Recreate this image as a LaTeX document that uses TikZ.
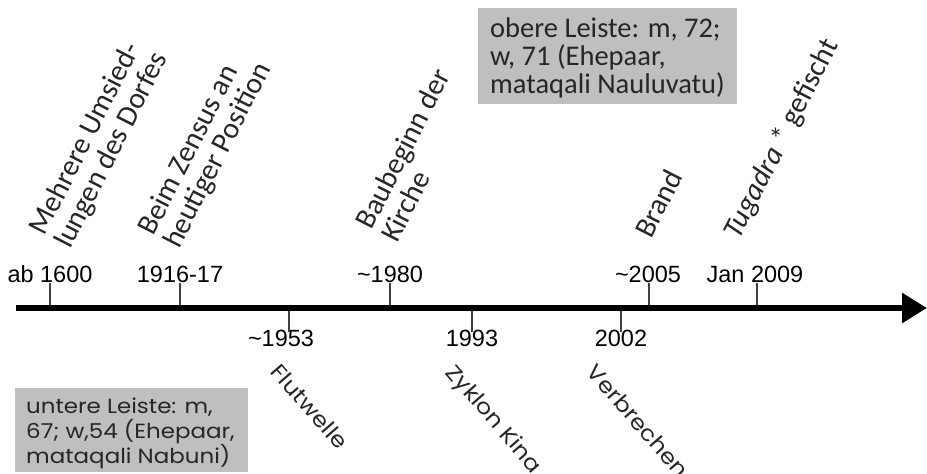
\documentclass[tikz,border=0pt]{standalone}
\usepackage{fontspec}
\setmainfont{Liberation Sans}
\newfontfamily\calib{Carlito}
\newfontfamily\gothic{Poppins}[FakeStretch=1.12]
\usetikzlibrary{arrows.meta}
\definecolor{boxgray}{HTML}{BFBFBF}
\definecolor{inkgray}{HTML}{262626}
\tikzset{
  datelbl/.style={font=\fontsize{23.5}{28}\selectfont, inner sep=0pt, text=black},
  tickline/.style={line width=1.2pt, draw=black!75},
  upevent/.style={font=\calib\fontsize{29.5}{26}\selectfont, inner sep=0pt, rotate=63, anchor=base west, text=inkgray},
  downevent/.style={font=\gothic\fontsize{21.5}{24}\selectfont, inner sep=0pt, rotate=-49, anchor=north west, text=inkgray},
  infobox/.style={fill=boxgray, inner sep=0pt, anchor=north west},
  infotext/.style={inner sep=0pt, anchor=base west, text=inkgray},
  axisline/.style={line width=6pt, -{Triangle[length=25pt,width=29pt]}}
}
\begin{document}
\begin{tikzpicture}[x=1pt,y=-1pt]
\useasboundingbox (0,0) rectangle (927,474);

% info boxes
\node[infobox, minimum width=259pt, minimum height=96pt] (obere) at (478,8) {};
\node[infotext, font=\calib\fontsize{28.5}{25.5}\selectfont] (oberetext) at (490,37)
  {\begin{tabular}[t]{@{}l@{}}obere Leiste: m, 72;\\w, 71 (Ehepaar,\\mataqali Nauluvatu)\end{tabular}};
\node[infobox, minimum width=233pt, minimum height=84pt] (untere) at (15,388) {};
\node[infotext, font=\gothic\fontsize{20.5}{20.5}\selectfont] (unteretext) at (26,413)
  {\begin{tabular}[t]{@{}l@{}}untere Leiste: m,\\67; w,54 (Ehepaar,\\mataqali Nabuni)\end{tabular}};

% axis coordinates
\coordinate (axL) at (16,308);
\coordinate (axR) at (927,308);
\coordinate (a1600) at (50,308);
\coordinate (a1916) at (180,308);
\coordinate (a1953) at (289,308);
\coordinate (a1980) at (390,308);
\coordinate (a1993) at (472,308);
\coordinate (a2002) at (621,308);
\coordinate (a2005) at (649,308);
\coordinate (a2009) at (757,308);

% date labels above
\node[datelbl, anchor=base] (l1600) at (50,282) {ab 1600};
\node[datelbl, anchor=base] (l1916) at (180,282) {1916-17};
\node[datelbl, anchor=base] (l1980) at (390,282) {\char`\~1980};
\node[datelbl, anchor=base] (l2005) at (648,282) {\char`\~2005};
\node[datelbl, anchor=base] (l2009) at (755,282) {Jan 2009};
% date labels below
\node[datelbl, anchor=north] (l1953) at (281,330) {\char`\~1953};
\node[datelbl, anchor=north] (l1993) at (472,330) {1993};
\node[datelbl, anchor=north] (l2002) at (621,330) {2002};

% ticks
\foreach \a/\l in {a1600/l1600, a1916/l1916, a1980/l1980, a2005/l2005, a2009/l2009}
  \draw[tickline] (\a) -- ([yshift=-1pt]\a |- \l.south);
\foreach \a/\l in {a1953/l1953, a1993/l1993, a2002/l2002}
  \draw[tickline] (\a) -- ([yshift=-2pt]\a |- \l.north);

% axis
\draw[axisline] (axL) -- (axR);

% events above
\node[upevent] (e1600) at (70,250) {\begin{tabular}[b]{@{}l@{}}Mehrere Umsied-\\lungen des Dorfes\end{tabular}};
\node[upevent] (e1916) at (179,250) {\begin{tabular}[b]{@{}l@{}}Beim Zensus an\\heutiger Position\end{tabular}};
\node[upevent] (e1980) at (397,244) {\begin{tabular}[b]{@{}l@{}}Baubeginn der\\Kirche\end{tabular}};
\node[upevent] (e2005) at (651,240) {Brand};
\node[upevent] (e2009) at (739,241) {\textit{Tugadra} * gefischt};

% events below
\node[downevent] (e1953) at (282,362) {Flutwelle};
\node[downevent] (e1993) at (457,362) {Zyklon Kina};
\node[downevent] (e2002) at (598,362) {Verbrechen};
\end{tikzpicture}
\end{document}
